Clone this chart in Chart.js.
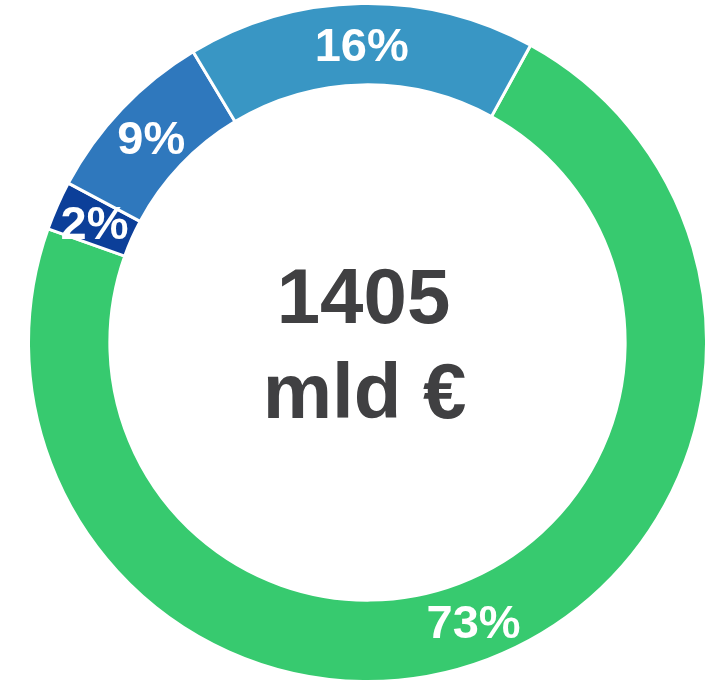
<!DOCTYPE html>
<html>
<head>
<meta charset="utf-8">
<style>
  html, body { margin: 0; padding: 0; background: #ffffff; overflow: hidden; }
  #wrap { position: relative; width: 705px; height: 682px; overflow: hidden; }
  #donut { display: block; }
</style>
<script src="https://cdn.jsdelivr.net/npm/chart.js@4"></script>
</head>
<body>
<div id="wrap"><canvas id="donut" width="708" height="683"></canvas></div>
<script>
// Segment values in mld €, clockwise from the green slice
const categories = ["A", "B", "C", "D"];
const values = [1018, 33, 121, 233];
const percentLabels = ["73%", "2%", "9%", "16%"];
const segmentColors = ["#37ca6f", "#0c3f99", "#2f78bd", "#3996c4"];
const centerLines = ["1405", "mld €"];

// white percentage labels in the middle of each ring segment
const sliceLabels = {
  id: "sliceLabels",
  afterDatasetsDraw(chart) {
    const ctx = chart.ctx;
    const meta = chart.getDatasetMeta(0);
    ctx.save();
    ctx.fillStyle = "#ffffff";
    ctx.font = "bold 47px 'Liberation Sans', Arial, sans-serif";
    ctx.textAlign = "center";
    ctx.textBaseline = "middle";
    meta.data.forEach((arc, i) => {
      const pos = arc.tooltipPosition();
      ctx.fillText(percentLabels[i], pos.x, pos.y + 4);
    });
    ctx.restore();
  }
};

// total in the hole
const centerText = {
  id: "centerText",
  afterDraw(chart) {
    const ctx = chart.ctx;
    const arc = chart.getDatasetMeta(0).data[0];
    const cx = arc.x;
    const cy = arc.y;
    ctx.save();
    ctx.fillStyle = "#404042";
    ctx.font = "bold 78px 'Liberation Sans', Arial, sans-serif";
    ctx.textAlign = "center";
    ctx.textBaseline = "alphabetic";
    ctx.fillText(centerLines[0], cx - 4, cy - 20);
    ctx.fillText(centerLines[1], cx - 3, cy + 75);
    ctx.restore();
  }
};

new Chart(document.getElementById("donut"), {
  type: "doughnut",
  data: {
    labels: categories,
    datasets: [
      {
        data: values,
        backgroundColor: segmentColors,
        borderColor: "#ffffff",
        borderWidth: 3,
        hoverOffset: 0,
        offset: 0
      }
    ]
  },
  options: {
    responsive: false,
    maintainAspectRatio: false,
    devicePixelRatio: 1,
    animation: false,
    rotation: 28.75,
    cutout: "76%",
    layout: {
      padding: { left: 27, right: 0, top: 2, bottom: 0 }
    },
    plugins: {
      legend: { display: false },
      tooltip: { enabled: false }
    },
    events: []
  },
  plugins: [sliceLabels, centerText]
});
</script>
</body>
</html>
